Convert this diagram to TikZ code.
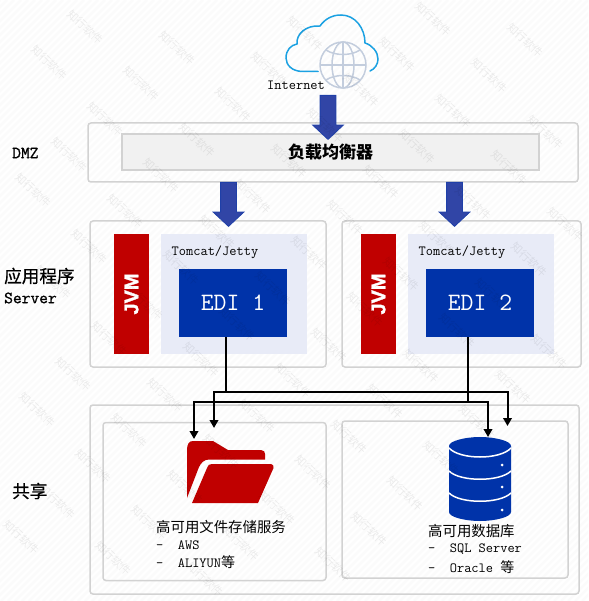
\documentclass[tikz,border=0pt]{standalone}
\usepackage{fontspec}
\usepackage{xcolor}
\usetikzlibrary{arrows.meta,shapes.arrows}
\newfontfamily\cjk{Noto Sans CJK SC}
\newfontfamily\cjkmid[FakeBold=0.7]{Noto Sans CJK SC}
\newfontfamily\monobold[FakeBold=1.2]{Latin Modern Mono}
\newfontfamily\jvmfont[FakeBold=1.5]{Liberation Sans}
\definecolor{panelgray}{HTML}{D2D2D2}
\definecolor{lbgray}{HTML}{F1F1F1}
\definecolor{jvmred}{HTML}{C00000}
\definecolor{ediblue}{HTML}{0033A9}
\definecolor{tomcatblue}{HTML}{E8EBF7}
\definecolor{arrowblue}{HTML}{3145A6}
\definecolor{arrowedge}{HTML}{1F40A8}
\definecolor{cloudblue}{HTML}{1BA1E2}
\definecolor{globegray}{HTML}{C3CDDD}
\definecolor{hatchgray}{HTML}{FBFBFB}

\begin{document}
\begin{tikzpicture}[
  x=1pt, y=-1pt,
  panel/.style={draw=panelgray, line width=1.5pt, rounded corners=3pt, inner sep=0pt},
  jvmbar/.style={fill=jvmred, minimum width=35pt, minimum height=120pt, inner sep=0pt},
  jvmtext/.style={white, rotate=90, inner sep=0pt, font=\jvmfont\bfseries\fontsize{20}{20}\selectfont},
  tomcat/.style={fill=tomcatblue, minimum width=146pt, minimum height=120pt, inner sep=0pt},
  edibox/.style={fill=ediblue, text=white, minimum width=108pt, minimum height=68pt, inner sep=0pt, font=\ttfamily\fontsize{25}{25}\selectfont},
  bigarrow/.style={single arrow, anchor=tail, fill=arrowblue, draw=arrowedge, line width=0.8pt, rotate=-90, minimum height=44pt, minimum width=30pt, single arrow head extend=7.5pt, inner sep=7.5pt, single arrow tip angle=94},
  mono/.style={inner sep=0pt, anchor=west, font=\ttfamily\fontsize{14}{14}\selectfont},
  side/.style={inner sep=0pt, anchor=west, font=\monobold\fontsize{17}{17}\selectfont},
  sidecjk/.style={inner sep=0pt, anchor=west, font=\cjkmid\fontsize{17.6}{18}\selectfont},
  cjktext/.style={inner sep=0pt, anchor=west, font=\cjk\fontsize{14.4}{15}\selectfont},
  link/.style={draw=black, line width=2pt},
  flow/.style={link, -{Triangle[width=8.5pt, length=8pt]}},
  globeline/.style={draw=globegray, line width=1.5pt},
  mark text/.style={text=black, text opacity=0.07, inner sep=0pt, rotate=-43, font=\cjk\fontsize{11}{11}\selectfont}
]
  \useasboundingbox (0,0) rectangle (588,601);
  \clip (0,0) rectangle (588,601);
  \foreach \k in {0,7,...,1190} \draw[hatchgray, line width=2.5pt] (\k,0) -- (\k-601,601);

  \node[panel, minimum width=490pt, minimum height=59pt] (dmzbox) at (333,152.5) {};
  \node[panel, fill=lbgray, line width=1.2pt, rounded corners=0pt, minimum width=417pt, minimum height=36pt, font=\cjk\bfseries\fontsize{17}{17}\selectfont] (lb) at (330.5,152) {负载均衡器};

  \node[panel, minimum width=236pt, minimum height=146pt] (appa) at (208,294) {};
  \node[panel, minimum width=239pt, minimum height=146pt] (appb) at (461.5,294) {};
  \node[jvmbar] (jvma) at (131.5,294) {};
  \node[jvmbar] (jvmb) at (378.5,294) {};
  \node[jvmtext] (jvmtexta) at (jvma) {JVM};
  \node[jvmtext] (jvmtextb) at (jvmb) {JVM};
  \node[tomcat] (tomcata) at (234,294) {};
  \node[tomcat] (tomcatb) at (481,294) {};
  \node[mono] (tomcatlabela) at (171.5,252) {Tomcat/Jetty};
  \node[mono] (tomcatlabelb) at (418.5,252) {Tomcat/Jetty};
  \node[edibox] (edia) at (233,303) {EDI 1};
  \node[edibox] (edib) at (480,303) {EDI 2};

  \node[panel, minimum width=489pt, minimum height=189pt] (shared) at (334.5,499.5) {};
  \node[panel, minimum width=223pt, minimum height=158pt] (filebox) at (214.5,501.5) {};
  \node[panel, minimum width=226pt, minimum height=157pt] (dbbox) at (455,499.5) {};

  \node[side] (dmzlabel) at (12,153) {DMZ};
  \node[sidecjk] (applabel) at (4,276) {应用程序};
  \node[side] (serverlabel) at (4,298) {Server};
  \node[sidecjk] (sharedlabel) at (12,491) {共享};

  \draw[cloudblue, line width=1.5pt, line cap=round] (318,71.5) -- (303,71.5) .. controls (292,71.5) and (286,65) .. (286,58) .. controls (286,50) and (291,45) .. (297,44) .. controls (296,34) and (306,25) .. (320,26) .. controls (325,19) and (332,15) .. (341,15) .. controls (355,15) and (365,28) .. (365,43) .. controls (372,45) and (378,52) .. (378,59) .. controls (378,64) and (375,69) .. (370,71);
  \draw[globeline] (343,65) circle[radius=23pt];
  \draw[globeline] (343,65) ellipse[x radius=11pt, y radius=23pt];
  \draw[globeline] (343,42) -- (343,88);
  \draw[globeline] (320,65) -- (366,65);
  \draw[globeline] (326,50) .. controls (335,56) and (351,56) .. (360,50);
  \draw[globeline] (326,80) .. controls (335,74) and (351,74) .. (360,80);
  \node[mono] (internet) at (267,85) {Internet};

  \node[bigarrow] (arrowtop) at (328,95) {};
  \node[bigarrow] (arrowa) at (228.5,182) {};
  \node[bigarrow] (arrowb) at (454.5,182) {};

  \fill[jvmred] (187,450) .. controls (187,444) and (189,441) .. (193,441) -- (213,441) -- (228,450) -- (261,450) .. controls (264,450) and (265,452) .. (265,454) -- (265,459.5) -- (209,459.5) .. controls (204,459.5) and (201,463) .. (199,467) -- (187,498) -- cycle;
  \fill[jvmred] (192,503) -- (207,468) .. controls (208,465) and (209,464) .. (212,464) -- (271,464) .. controls (273,464) and (274,466) .. (273.5,468) -- (258,503) -- cycle;

  \fill[ediblue] (449,446) .. controls (449,441) and (465,437) .. (480,437) .. controls (495,437) and (511,441) .. (511,446) -- (511,512) .. controls (511,517) and (495,521) .. (480,521) .. controls (465,521) and (449,517) .. (449,512) -- cycle;
  \draw[white, line width=1.5pt] (449,448) .. controls (460,460) and (500,460) .. (511,448);
  \draw[white, line width=1.5pt] (449,471) .. controls (460,482) and (500,482) .. (511,471);
  \draw[white, line width=1.5pt] (449,493) .. controls (460,504) and (500,504) .. (511,493);
  \foreach \y in {465,487,510} \fill[white] (502,\y) circle[radius=1.5pt];

  \coordinate (tapa) at (226,392);
  \coordinate (tapb) at (468,402);
  \coordinate (folderin) at (214,428);
  \coordinate (folderout) at (194,439);
  \coordinate (dbin) at (488,437);
  \coordinate (dbout) at (507.5,426);
  \draw[link] (edia.south -| tapa) -- (tapa);
  \draw[link] (edib.south -| tapb) -- (tapb);
  \draw[flow] (tapa) -| (folderin);
  \draw[flow] (tapa) -| (dbout);
  \draw[flow] (tapb) -| (folderout);
  \draw[flow] (tapb) -| (dbin);

  \node[cjktext] (filetitle) at (156,527) {高可用文件存储服务};
  \node[mono] (fileaws) at (156,545) {-~~AWS};
  \node[mono] (filealiyun) at (156,562) {-~~ALIYUN{\cjk 等}};
  \node[cjktext] (dbtitle) at (428,531) {高可用数据库};
  \node[mono] (dbsql) at (428,549) {-~~SQL Server};
  \node[mono] (dboracle) at (428,567) {-~~Oracle {\cjk 等}};

  \foreach \i in {-4,...,7}
    \foreach \j in {-8,...,18} {
      \pgfmathsetmacro\markx{85+\i*92-\j*36}
      \pgfmathsetmacro\marky{27+\i*21+\j*35.5}
      \pgfmathtruncatemacro\markin{and(and(\markx>18,\markx<570),and(\marky>18,\marky<583))}
      \ifnum\markin=1 \node[mark text] at (\markx,\marky) {知行软件}; \fi
    }
\end{tikzpicture}
\end{document}
